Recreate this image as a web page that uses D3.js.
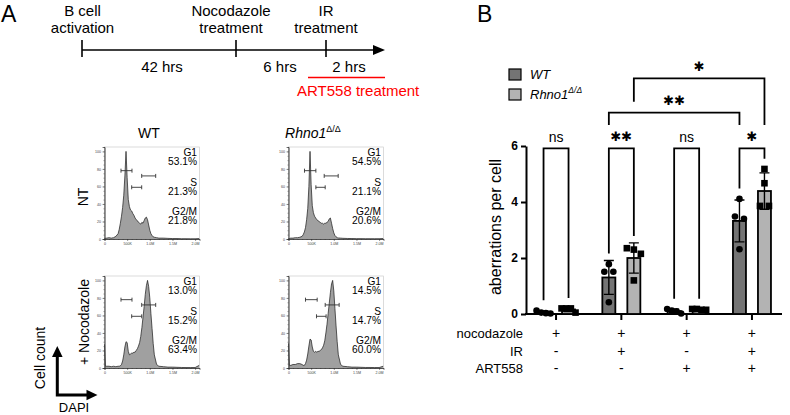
<!DOCTYPE html>
<html>
<head>
<meta charset="utf-8">
<script src="https://cdn.jsdelivr.net/npm/d3@7"></script>
<style>
  body { margin: 0; background: #fff; }
  svg { display: block; font-family: "Liberation Sans", Arial, sans-serif; }
</style>
</head>
<body>
<svg id="fig" width="790" height="415"></svg>
<script>
// ── Panel A data ─────────────────────────────────────────────
const timelineEvents = [['B cell', 'activation'], ['Nocodazole', 'treatment'], ['IR', 'treatment']];
const timelineDurations = ['42 hrs', '6 hrs', '2 hrs'];
const inhibitorLabel = 'ART558 treatment';

// DAPI channel (thousands), shared bins for all four histograms
const dapiK = [0, 20, 50, 100, 150, 200, 250, 300, 325, 350, 375, 400, 425, 450, 475, 500,
  525, 550, 575, 600, 625, 650, 675, 700, 725, 750, 775, 800, 825, 850, 875, 900, 925, 950,
  975, 1000, 1025, 1050, 1075, 1100, 1150, 1200, 1300, 1400, 1500, 1600, 1700, 1800, 1900, 2000, 2090];

const countWtNt = [0.5, 0.8, 1, 1.5, 1, 1.5, 3, 6, 11, 18, 26, 36, 50, 72, 100, 70,
  45, 37, 33, 32, 29, 27, 24, 22, 21, 19, 18, 17, 19, 18, 21, 24, 25, 22,
  16, 10, 6, 4, 2.5, 2, 1.5, 1, 1, 0.7, 0.5, 0.5, 0.3, 0.3, 0.2, 0.2, 0.5];
const countKoNt = [0.5, 0.5, 1, 1, 1.5, 1.5, 2, 3, 5, 8, 13, 22, 35, 60, 100, 62,
  38, 30, 26, 24, 22, 21, 20, 19, 18, 18, 17, 18, 18, 19, 20, 23, 24, 18,
  12, 7, 4, 2.5, 1.5, 1.2, 1, 0.8, 0.6, 0.5, 0.4, 0.4, 0.3, 0.3, 0.3, 0.3, 0.5];
const countWtNoc = [27, 2, 2, 2, 1.5, 2, 1.5, 2, 2, 2.5, 4, 8, 15, 24, 30, 29,
  19, 15, 16, 17, 17, 18, 18, 20, 22, 25, 29, 36, 46, 58, 70, 84, 94, 100,
  93, 80, 62, 45, 28, 15, 4, 2, 1.5, 1, 1, 0.8, 0.6, 0.5, 0.5, 0.5, 3];
const countKoNoc = [28, 3, 3, 4, 4, 5, 5, 4, 3, 3, 5, 9, 16, 25, 33, 32,
  24, 19, 18, 19, 18, 19, 19, 20, 21, 23, 26, 31, 40, 50, 62, 74, 86, 96,
  100, 88, 68, 48, 30, 15, 4, 2, 1.5, 1, 1, 0.8, 0.6, 0.6, 0.5, 0.5, 2];

const phaseNames = ['G1', 'S', 'G2/M'];
const gateHeights = [78, 59, 72];             // % of max
const gatesWtNt = [[364, 607], [600, 821], [821, 1130]];
const gatesKoNt = [[353, 604], [604, 810], [788, 1097]];
const gatesWtNoc = [[364, 607], [600, 821], [821, 1130]];
const gatesKoNoc = [[375, 633], [618, 830], [810, 1118]];
const pctWtNt = ['53.1%', '21.3%', '21.8%'];
const pctKoNt = ['54.5%', '21.1%', '20.6%'];
const pctWtNoc = ['13.0%', '15.2%', '63.4%'];
const pctKoNoc = ['14.5%', '14.7%', '60.0%'];

// ── Panel B data ─────────────────────────────────────────────
const conditionNames = ['nocodazole', 'IR', 'ART558'];
const nocodazoleSigns = ['+', '+', '+', '+'];
const irSigns = ['-', '+', '-', '+'];
const art558Signs = ['-', '-', '+', '+'];
const wtPoints = [[0.05, 0.12, 0.02, 0.03], [1.78, 1.51, 1.51, 0.42], [0.02, 0.18, 0.12, 0.10], [4.11, 3.48, 3.40, 2.31]];
const koPoints = [[0.05, 0.20, 0.20, 0.20], [2.35, 2.30, 2.15, 1.20], [0.15, 0.18, 0.18, 0.15], [5.18, 4.67, 3.86, 3.86]];
const pairSig = ['ns', '**', 'ns', '*'];
const crossSig = [
  { a: [1, 'WT'], b: [3, 'WT'], label: '**' },
  { a: [1, 'KO'], b: [3, 'KO'], label: '*' }
];

const svg = d3.select('#fig');
const STAR_FONT = '"DejaVu Sans", sans-serif';

// Panel letters
svg.append('text').attr('x', 1).attr('y', 21.5).attr('font-size', 23).text('A');
svg.append('text').attr('x', 477).attr('y', 21.5).attr('font-size', 23).text('B');

// ── Timeline ─────────────────────────────────────────────────
const tl = svg.append('g').attr('font-size', 15).attr('fill', '#000');
const eventX = d3.scaleOrdinal().domain(d3.range(3)).range([82, 236, 326]);
const labelShift = [0.5, -5, 0];
const TL_Y = 50, TL_END = 385;
tl.append('line').attr('x1', eventX(0)).attr('x2', TL_END - 10).attr('y1', TL_Y).attr('y2', TL_Y)
  .attr('stroke', '#000').attr('stroke-width', 1.6);
tl.append('path').attr('d', `M${TL_END},${TL_Y} L${TL_END - 12},${TL_Y - 5} L${TL_END - 12},${TL_Y + 5} Z`);
timelineEvents.forEach((lines, i) => {
  const x = eventX(i);
  tl.append('line').attr('x1', x).attr('x2', x).attr('y1', TL_Y - 10).attr('y2', TL_Y + 7)
    .attr('stroke', '#000').attr('stroke-width', 1.6);
  lines.forEach((t, j) => {
    tl.append('text').attr('x', x + labelShift[i]).attr('y', 15.5 + j * 17.5)
      .attr('text-anchor', 'middle').text(t);
  });
});
const durX = [162, 280, 349];
timelineDurations.forEach((t, i) => {
  tl.append('text').attr('x', durX[i]).attr('y', 72).attr('text-anchor', 'middle').text(t);
});
tl.append('line').attr('x1', 308).attr('x2', TL_END).attr('y1', 77.5).attr('y2', 77.5)
  .attr('stroke', '#ff0000').attr('stroke-width', 1.6);
tl.append('text').attr('x', 297).attr('y', 96).attr('fill', '#ff0000').text(inhibitorLabel);

// ── Histograms ───────────────────────────────────────────────
const HW = 95, HH = 92;
const hx = d3.scaleLinear().domain([0, 2097]).range([0, HW]);
const hy = d3.scaleLinear().domain([0, 105]).range([HH, 0]);

function drawHist(x0, y0, counts, gates, pcts) {
  const g = svg.append('g').attr('transform', `translate(${x0},${y0})`);
  const pts = dapiK.map((k, i) => [k, counts[i]]);

  g.append('rect').attr('width', HW).attr('height', HH)
    .attr('fill', 'none').attr('stroke', '#c4c4c4').attr('stroke-width', 0.6);

  g.append('path').datum(pts)
    .attr('d', d3.area().x(d => hx(d[0])).y0(hy(0)).y1(d => hy(d[1])))
    .attr('fill', '#a0a0a0');
  g.append('path').datum(pts)
    .attr('d', d3.line().x(d => hx(d[0])).y(d => hy(d[1])))
    .attr('fill', 'none').attr('stroke', '#1a1a1a').attr('stroke-width', 0.7);

  // axes
  const ya = g.append('g').call(d3.axisLeft(hy).tickValues([0, 20, 40, 60, 80, 100]).tickSize(2).tickPadding(1.5));
  const yMinor = g.append('g').call(d3.axisLeft(hy).tickValues(d3.range(0, 101, 5)).tickSize(1).tickFormat(''));
  const xa = g.append('g').attr('transform', `translate(0,${HH})`)
    .call(d3.axisBottom(hx).tickValues([0, 500, 1000, 1500, 2000]).tickSize(2).tickPadding(1.5)
      .tickFormat(d => d === 0 ? '0' : d < 1000 ? d + 'K' : (d / 1000).toFixed(1) + 'M'));
  const xMinor = g.append('g').attr('transform', `translate(0,${HH})`)
    .call(d3.axisBottom(hx).tickValues(d3.range(0, 2001, 100)).tickSize(1).tickFormat(''));
  [ya, yMinor, xa, xMinor].forEach(a => {
    a.selectAll('path').attr('stroke', '#333').attr('stroke-width', 0.6);
    a.selectAll('line').attr('stroke', '#333').attr('stroke-width', 0.5);
    a.selectAll('text').attr('font-size', 3.6).attr('fill', '#444');
  });

  // gates
  gates.forEach((gt, i) => {
    const gy = hy(gateHeights[i]);
    g.append('path')
      .attr('d', `M${hx(gt[0])},${gy} H${hx(gt[1])} M${hx(gt[0])},${gy - 2} V${gy + 2} M${hx(gt[1])},${gy - 2} V${gy + 2}`)
      .attr('stroke', '#333').attr('stroke-width', 0.9).attr('fill', 'none');
  });

  // phase text
  const offs = [[5, 14.5], [35, 44.5], [64, 73.5]];
  phaseNames.forEach((p, i) => {
    g.append('text').attr('x', HW - 2.5).attr('y', offs[i][0]).attr('dy', '0.35em')
      .attr('text-anchor', 'end').attr('font-size', 10.2).text(p);
    g.append('text').attr('x', HW - 2.5).attr('y', offs[i][1]).attr('dy', '0.35em')
      .attr('text-anchor', 'end').attr('font-size', 10.2).text(pcts[i]);
  });
}

drawHist(104.5, 147, countWtNt, gatesWtNt, pctWtNt);
drawHist(288.5, 147, countKoNt, gatesKoNt, pctKoNt);
drawHist(104.5, 276, countWtNoc, gatesWtNoc, pctWtNoc);
drawHist(288.5, 276, countKoNoc, gatesKoNoc, pctKoNoc);

// column / row titles
svg.append('text').attr('x', 149).attr('y', 138).attr('text-anchor', 'middle').attr('font-size', 14).text('WT');
const koTitle = svg.append('text').attr('x', 313).attr('y', 138).attr('text-anchor', 'middle').attr('font-size', 14);
koTitle.append('tspan').attr('font-style', 'italic').text('Rhno1');
koTitle.append('tspan').attr('font-size', 9).attr('dy', -6).text('Δ/Δ');

svg.append('text').attr('transform', 'translate(83,197) rotate(-90)').attr('text-anchor', 'middle')
  .attr('dy', '0.35em').attr('font-size', 14).text('NT');
svg.append('text').attr('transform', 'translate(84,322) rotate(-90)').attr('text-anchor', 'middle')
  .attr('dy', '0.35em').attr('font-size', 14).text('+ Nocodazole');

// Cell count / DAPI key
svg.append('text').attr('transform', 'translate(40,358) rotate(-90)').attr('text-anchor', 'middle')
  .attr('dy', '0.35em').attr('font-size', 14).text('Cell count');
svg.append('path').attr('d', 'M57.3,356 V395 H88').attr('fill', 'none').attr('stroke', '#000').attr('stroke-width', 3);
svg.append('path').attr('d', 'M57.3,346 L52,357 L62.6,357 Z');
svg.append('path').attr('d', 'M97.5,395 L86.5,389.7 L86.5,400.3 Z');
svg.append('text').attr('x', 74).attr('y', 412).attr('text-anchor', 'middle').attr('font-size', 13).text('DAPI');

// ── Panel B: bar chart ───────────────────────────────────────
const groups = d3.range(4);
const gx = d3.scalePoint().domain(groups).range([526, 782]).padding(0.46);
const sx = d3.scaleBand().domain(['WT', 'KO']).range([-25, 25]).paddingInner(0.48).paddingOuter(0.24);
const by = d3.scaleLinear().domain([0, 6]).range([314, 146]);
const fills = { WT: '#747474', KO: '#b3b3b3' };
const R = 3.3;

const series = groups.flatMap(i => [
  { gi: i, s: 'WT', vals: wtPoints[i] },
  { gi: i, s: 'KO', vals: koPoints[i] }
]);
series.forEach(d => {
  d.mean = d3.mean(d.vals);
  d.sd = d3.deviation(d.vals);
  d.cx = gx(d.gi) + sx(d.s) + sx.bandwidth() / 2;
  d.top = Math.min(by(d.mean + d.sd), by(d3.max(d.vals)) - R);
});
const key = (gi, s) => series.find(d => d.gi === gi && d.s === s);

// y axis
const yAx = svg.append('g').attr('transform', 'translate(526,0)')
  .call(d3.axisLeft(by).tickValues([0, 2, 4, 6]).tickFormat(d3.format('d'))
    .tickSize(5).tickSizeOuter(0).tickPadding(3));
yAx.selectAll('path').attr('stroke-width', 2);
yAx.selectAll('line').attr('stroke-width', 2);
yAx.selectAll('text').attr('font-size', 12).attr('font-weight', 'bold').attr('fill', '#000')
  .attr('font-family', '"Liberation Sans", Arial, sans-serif');
svg.append('text').attr('transform', 'translate(495,227) rotate(-90)').attr('text-anchor', 'middle')
  .attr('dy', '0.35em').attr('font-size', 16).text('aberrations per cell');

// x axis
svg.append('line').attr('x1', 525).attr('x2', 782).attr('y1', by(0)).attr('y2', by(0))
  .attr('stroke', '#000').attr('stroke-width', 2);
svg.selectAll('line.xtick').data(groups).enter().append('line').attr('class', 'xtick')
  .attr('x1', d => gx(d)).attr('x2', d => gx(d)).attr('y1', by(0)).attr('y2', by(0) + 6)
  .attr('stroke', '#000').attr('stroke-width', 2);

// bars
svg.selectAll('rect.bar').data(series).enter().append('rect').attr('class', 'bar')
  .attr('x', d => d.cx - sx.bandwidth() / 2).attr('width', sx.bandwidth())
  .attr('y', d => by(d.mean)).attr('height', d => by(0) - by(d.mean))
  .attr('fill', d => fills[d.s]).attr('stroke', '#000').attr('stroke-width', 1.8);

// error bars (mean ± SD)
series.forEach(d => {
  const y1 = by(d.mean + d.sd), y2 = by(Math.max(0, d.mean - d.sd));
  svg.append('path')
    .attr('d', `M${d.cx},${y1} V${y2} M${d.cx - 5},${y1} H${d.cx + 5} M${d.cx - 5},${y2} H${d.cx + 5}`)
    .attr('stroke', '#000').attr('stroke-width', 1.4).attr('fill', 'none');
});

// points: values close together are spread sideways
series.forEach(d => {
  const order = d.vals.map((v, i) => ({ v, i })).sort((a, b) => b.v - a.v);
  const clusters = [];
  order.forEach(p => {
    const last = clusters[clusters.length - 1];
    if (last && Math.abs(by(last[last.length - 1].v) - by(p.v)) < 5) last.push(p);
    else clusters.push([p]);
  });
  clusters.forEach(c => {
    const step = c.length > 1 ? Math.min(9, 14 / (c.length - 1)) : 0;
    c.forEach((p, j) => {
      const px = d.cx + (j - (c.length - 1) / 2) * step;
      const py = by(p.v);
      if (d.s === 'WT') svg.append('circle').attr('cx', px).attr('cy', py).attr('r', R);
      else svg.append('rect').attr('x', px - R).attr('y', py - R).attr('width', 2 * R).attr('height', 2 * R);
    });
  });
});

// significance
function sigText(x, y, label) {
  const t = svg.append('text').attr('x', x).attr('y', y).attr('text-anchor', 'middle').attr('dy', '0.35em');
  if (label === 'ns') t.attr('font-size', 14).text('ns');
  else t.attr('font-family', STAR_FONT).attr('font-size', 13).text(label.replace(/\*/g, '✱'));
}
const PAIR_Y = 148.3;
groups.forEach(i => {
  const a = key(i, 'WT'), b = key(i, 'KO');
  svg.append('path').attr('d', `M${a.cx},${a.top - 7} V${PAIR_Y} H${b.cx} V${b.top - 7}`)
    .attr('fill', 'none').attr('stroke', '#000').attr('stroke-width', 1.8);
  sigText(gx(i), PAIR_Y - 11.5, pairSig[i]);
});
const crossY = [112.7, 78.3];
const crossLegs = [[125, 125], [101.7, 125]];
crossSig.forEach((c, k) => {
  const a = key(c.a[0], c.a[1]), b = key(c.b[0], c.b[1]);
  svg.append('path').attr('d', `M${a.cx},${crossLegs[k][0]} V${crossY[k]} H${b.cx} V${crossLegs[k][1]}`)
    .attr('fill', 'none').attr('stroke', '#000').attr('stroke-width', 1.8);
  sigText((a.cx + b.cx) / 2, crossY[k] - 12, c.label);
});

// legend
[['WT', null], ['Rhno1', 'Δ/Δ']].forEach((lab, i) => {
  const s = i === 0 ? 'WT' : 'KO';
  const y = 69 + i * 20;
  svg.append('rect').attr('x', 509).attr('y', y).attr('width', 12).attr('height', 11)
    .attr('fill', fills[s]).attr('stroke', '#000').attr('stroke-width', 1.2);
  const t = svg.append('text').attr('x', 530).attr('y', y + 5.5).attr('dy', '0.35em')
    .attr('font-size', 13).attr('font-style', 'italic');
  t.append('tspan').text(lab[0]);
  if (lab[1]) t.append('tspan').attr('font-size', 8.5).attr('dy', -6).text(lab[1]);
});

// treatment table
const signRows = [nocodazoleSigns, irSigns, art558Signs];
const rowY = [333.5, 351, 368.5];
conditionNames.forEach((name, r) => {
  svg.append('text').attr('x', 523).attr('y', rowY[r]).attr('dy', '0.35em')
    .attr('text-anchor', 'end').attr('font-size', 13).text(name);
  signRows[r].forEach((sg, i) => {
    svg.append('text').attr('x', gx(i)).attr('y', rowY[r]).attr('dy', '0.35em')
      .attr('text-anchor', 'middle').attr('font-size', 14).text(sg);
  });
});
</script>
</body>
</html>
